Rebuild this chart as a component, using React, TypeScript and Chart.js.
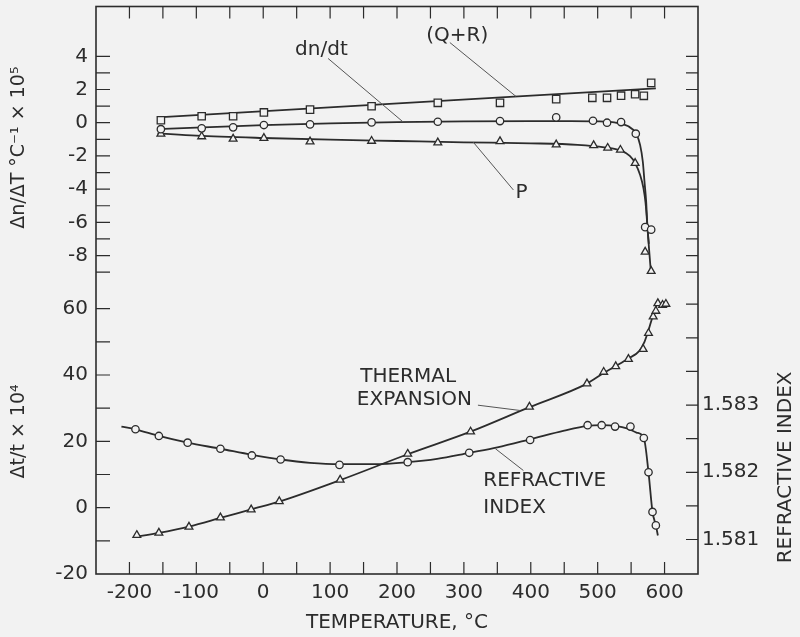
import React, { useEffect, useRef } from 'react';
import { Chart, registerables } from 'chart.js';

Chart.register(...registerables);

// ---------------- data ----------------
// top panel: temperature derivatives (x 10^5 per °C)
const QR_T = [-153, -92, -45, 1, 70, 162, 261, 354, 438, 492, 514, 535, 556, 569, 580];
const QR_V = [0.15, 0.39, 0.39, 0.62, 0.79, 0.99, 1.2, 1.2, 1.42, 1.5, 1.5, 1.63, 1.72, 1.62, 2.4];
const QR_LINE_T = [-158, 587];
const QR_LINE_V = [0.32, 2.07];

const DN_T = [-153, -92, -45, 1, 70, 162, 261, 354, 438, 493, 514, 535, 557, 571, 580];
const DN_V = [-0.39, -0.34, -0.28, -0.14, -0.1, 0.02, 0.06, 0.1, 0.32, 0.12, 0.0, 0.04, -0.66, -6.29, -6.44];
const DN_CURVE_T = [-158, -100, 0, 100, 200, 300, 400, 460, 500, 530, 545, 557.5, 563.5, 567.5, 570, 572.5, 574.5, 576.5];
const DN_CURVE_V = [-0.38, -0.3, -0.15, -0.04, 0.04, 0.08, 0.1, 0.1, 0.08, -0.02, -0.2, -0.66, -1.35, -2.35, -3.55, -4.75, -6.35, -7.3];

const P_T = [-153, -92, -45, 1, 70, 162, 261, 354, 438, 494, 515, 534, 556, 571, 580];
const P_V = [-0.67, -0.83, -0.97, -0.93, -1.14, -1.1, -1.2, -1.12, -1.32, -1.36, -1.52, -1.64, -2.43, -7.78, -8.94];
const P_CURVE_T = [-158, -100, 0, 100, 200, 300, 400, 470, 510, 535, 548, 556, 563.5, 568.5, 571.5, 574.5, 577, 579.5];
const P_CURVE_V = [-0.64, -0.78, -0.92, -1.02, -1.1, -1.18, -1.24, -1.33, -1.48, -1.68, -2.0, -2.43, -3.15, -3.95, -4.8, -6.3, -7.7, -8.95];

// bottom panel: thermal expansion (x 10^4) and refractive index
const TE_T = [-189, -156, -111, -64, -18, 24, 115, 216, 310, 398, 484, 509, 527, 546, 568, 576, 583, 587, 590, 597, 602];
const TE_V = [-8.3, -7.6, -5.8, -3.0, -0.6, 1.9, 8.4, 16.2, 22.9, 30.4, 37.4, 40.9, 42.6, 44.8, 47.8, 52.6, 57.6, 59.3, 61.6, 61.1, 61.4];
const TE_CURVE_T = [-192, -156, -111, -64, -18, 25, 115, 216, 310, 398, 484, 509, 527, 546, 562, 570, 576, 582, 587, 591];
const TE_CURVE_V = [-8.8, -7.6, -5.7, -3.1, -0.5, 1.9, 8.3, 16.1, 22.9, 30.3, 37.4, 40.6, 42.7, 45.0, 47.2, 50.0, 53.5, 57.5, 60.5, 62.5];

const RI_T = [-191, -156, -113, -64, -17, 26, 114, 216, 308, 399, 485, 506, 526, 549, 569, 576, 582, 587];
const RI_V = [1.58264, 1.58254, 1.58244, 1.58235, 1.58225, 1.58219, 1.58211, 1.58215, 1.58229, 1.58248, 1.5827, 1.5827, 1.58268, 1.58268, 1.58251, 1.582, 1.58141, 1.58121];
const RI_CURVE_T = [-212, -191, -156, -113, -64, -17, 26, 70, 114, 165, 216, 260, 308, 350, 399, 450, 485, 506, 526, 545, 558, 569, 576, 582, 587, 590];
const RI_CURVE_V = [1.58268, 1.58264, 1.58254, 1.58244, 1.58235, 1.58226, 1.58219, 1.58214, 1.58212, 1.58212, 1.58215, 1.5822, 1.58229, 1.58237, 1.58249, 1.58262, 1.58269, 1.5827, 1.58269, 1.58265, 1.58259, 1.58251, 1.582, 1.58141, 1.58121, 1.58106];

// ticks and labels
const X_TICKS = [-200, -150, -100, -50, 0, 50, 100, 150, 200, 250, 300, 350, 400, 450, 500, 550, 600];
const X_LABELS = [-200, -100, 0, 100, 200, 300, 400, 500, 600];
const TOP_TICKS = [-9, -8, -7, -6, -5, -4, -3, -2, -1, 0, 1, 2, 3, 4];
const TOP_LABELS = [-8, -6, -4, -2, 0, 2, 4];
const BOT_TICKS = [-20, -10, 0, 10, 20, 30, 40, 50, 60];
const BOT_LABELS = [-20, 0, 20, 40, 60];
const RI_TICKS = [1.581, 1.5815, 1.582, 1.5825, 1.583, 1.5835, 1.584, 1.5845];
const RI_LABELS = [1.581, 1.582, 1.583];

// texts
const X_TITLE = 'TEMPERATURE, °C';
const TOP_TITLE = 'Δn/ΔT °C⁻¹ × 10⁵';
const BOT_TITLE = 'Δt/t × 10⁴';
const RI_TITLE = 'REFRACTIVE INDEX';
const NOTE_TEXTS = ['(Q+R)', 'dn/dt', 'P', 'THERMAL', 'EXPANSION', 'REFRACTIVE', 'INDEX'];

// ---------------- layout / style ----------------
const FONT = 'DejaVu Sans';
const INK = '#2c2c2c';
const BG = '#f2f2f2';

const NOTE_POS = [
  { axis: 'yTop', x: 290, y: 5.25, align: 'center' },
  { axis: 'yTop', x: 87, y: 4.38, align: 'center' },
  { axis: 'yTop', x: 386, y: -4.25, align: 'center' },
  { axis: 'yBot', x: 145, y: 39.6, align: 'left' },
  { axis: 'yBot', x: 140, y: 32.6, align: 'left' },
  { axis: 'yBot', x: 329, y: 8.2, align: 'left' },
  { axis: 'yBot', x: 329, y: -0.1, align: 'left' },
];
const LEADERS = [
  { axis: 'yTop', x1: 279, y1: 4.83, x2: 378, y2: 1.58 },
  { axis: 'yTop', x1: 97, y1: 3.87, x2: 209, y2: 0.05 },
  { axis: 'yTop', x1: 314, y1: -1.17, x2: 374, y2: -4.05 },
  { axis: 'yBot', x1: 321, y1: 30.9, x2: 384, y2: 29.3 },
  { axis: 'yBot', x1: 347, y1: 17.8, x2: 389, y2: 11.2 },
];

const pts = (xs: number[], ys: number[]) => xs.map((x, i) => ({ x, y: ys[i] }));
const near = (v: number, list: number[]) => list.some((a) => Math.abs(a - v) < 1e-7);
const fixedTicks = (list: number[]) => (scale: any) => {
  scale.ticks = list.map((value) => ({ value }));
};
const noPad = (s: any) => {
  s.paddingTop = 0;
  s.paddingBottom = 0;
  s.paddingLeft = 0;
  s.paddingRight = 0;
};

const curve = (xs: number[], ys: number[], axis: string) => ({
  data: pts(xs, ys),
  yAxisID: axis,
  showLine: true,
  borderColor: INK,
  borderWidth: 1.8,
  pointRadius: 0,
  cubicInterpolationMode: 'monotone',
  fill: false,
  order: 2,
});
const marks = (xs: number[], ys: number[], axis: string, style: string, r: number) => ({
  data: pts(xs, ys),
  yAxisID: axis,
  showLine: false,
  pointStyle: style,
  pointRadius: r,
  pointBackgroundColor: BG,
  pointBorderColor: INK,
  pointBorderWidth: 1.3,
  order: 1,
});

const framePlugin = {
  id: 'frameTicks',
  beforeDatasetsDraw(chart: any) {
    const { ctx, chartArea: a, scales } = chart;
    ctx.save();
    ctx.strokeStyle = INK;
    ctx.lineWidth = 1.6;
    ctx.strokeRect(a.left, a.top, a.right - a.left, a.bottom - a.top);
    ctx.lineWidth = 1.2;
    ctx.beginPath();
    const x = scales.x;
    x.ticks.forEach((t: any) => {
      const px = x.getPixelForValue(t.value);
      ctx.moveTo(px, a.bottom);
      ctx.lineTo(px, a.bottom - 12);
      ctx.moveTo(px, a.top);
      ctx.lineTo(px, a.top + 12);
    });
    const yt = scales.yTop;
    yt.ticks.forEach((t: any) => {
      const py = yt.getPixelForValue(t.value);
      ctx.moveTo(a.left, py);
      ctx.lineTo(a.left + 14, py);
      ctx.moveTo(a.right, py);
      ctx.lineTo(a.right - 12, py);
    });
    const yb = scales.yBot;
    yb.ticks.forEach((t: any) => {
      const py = yb.getPixelForValue(t.value);
      if (py > a.bottom - 2) return;
      ctx.moveTo(a.left, py);
      ctx.lineTo(a.left + 14, py);
    });
    const yr = scales.yRI;
    yr.ticks.forEach((t: any) => {
      const py = yr.getPixelForValue(t.value);
      ctx.moveTo(a.right, py);
      ctx.lineTo(a.right - 12, py);
    });
    ctx.stroke();
    ctx.restore();
  },
  afterDatasetsDraw(chart: any) {
    const { ctx, chartArea: a, scales } = chart;
    const x = scales.x;
    ctx.save();
    ctx.strokeStyle = '#555';
    ctx.lineWidth = 1;
    ctx.beginPath();
    LEADERS.forEach((l) => {
      const y = scales[l.axis];
      ctx.moveTo(x.getPixelForValue(l.x1), y.getPixelForValue(l.y1));
      ctx.lineTo(x.getPixelForValue(l.x2), y.getPixelForValue(l.y2));
    });
    ctx.stroke();
    ctx.fillStyle = INK;
    ctx.font = `20px "${FONT}"`;
    ctx.textBaseline = 'middle';
    NOTE_TEXTS.forEach((txt, i) => {
      const p = NOTE_POS[i];
      ctx.textAlign = p.align as CanvasTextAlign;
      ctx.fillText(txt, x.getPixelForValue(p.x), scales[p.axis].getPixelForValue(p.y));
    });
    // right-hand axis title, read bottom-to-top
    const yb = scales.yBot;
    ctx.translate(a.right + 88, (yb.top + yb.bottom) / 2 + 36);
    ctx.rotate(-Math.PI / 2);
    ctx.textAlign = 'center';
    ctx.fillText(RI_TITLE, 0, 0);
    ctx.restore();
  },
};

const tickFont = { family: FONT, size: 20 };

export default function App() {
  const ref = useRef<HTMLCanvasElement>(null);
  useEffect(() => {
    const chart = new Chart(ref.current as HTMLCanvasElement, {
      type: 'scatter',
      data: {
        datasets: [
          curve(QR_LINE_T, QR_LINE_V, 'yTop'),
          marks(QR_T, QR_V, 'yTop', 'rect', 5.2),
          curve(DN_CURVE_T, DN_CURVE_V, 'yTop'),
          marks(DN_T, DN_V, 'yTop', 'circle', 3.7),
          curve(P_CURVE_T, P_CURVE_V, 'yTop'),
          marks(P_T, P_V, 'yTop', 'triangle', 4.5),
          curve(TE_CURVE_T, TE_CURVE_V, 'yBot'),
          marks(TE_T, TE_V, 'yBot', 'triangle', 4.5),
          curve(RI_CURVE_T, RI_CURVE_V, 'yRI'),
          marks(RI_T, RI_V, 'yRI', 'circle', 3.7),
        ] as any,
      },
      options: {
        responsive: false,
        animation: false,
        devicePixelRatio: 1,
        events: [],
        layout: { padding: { top: 3, left: 0, right: 0, bottom: 0 } },
        plugins: { legend: { display: false }, tooltip: { enabled: false } },
        scales: {
          x: {
            type: 'linear',
            position: 'bottom',
            min: -250,
            max: 650,
            grid: { display: false, drawTicks: false },
            border: { display: false },
            afterBuildTicks: fixedTicks(X_TICKS),
            afterFit: (s: any) => {
              s.height = 63;
              noPad(s);
            },
            ticks: {
              autoSkip: false,
              maxRotation: 0,
              padding: 7,
              color: INK,
              font: tickFont,
              callback: (v: any) => (near(Number(v), X_LABELS) ? String(v) : ''),
            },
            title: {
              display: true,
              text: X_TITLE,
              color: INK,
              font: { family: FONT, size: 20 },
              padding: { top: 0, bottom: 2 },
            },
          },
          yBot: {
            type: 'linear',
            axis: 'y',
            position: 'left',
            stack: 'left',
            stackWeight: 287,
            min: -20,
            max: 66,
            grid: { display: false, drawTicks: false },
            border: { display: false },
            afterBuildTicks: fixedTicks(BOT_TICKS),
            afterFit: (s: any) => {
              s.width = 96;
              noPad(s);
            },
            ticks: {
              autoSkip: false,
              padding: 8,
              color: INK,
              font: tickFont,
              callback: (v: any) => (near(Number(v), BOT_LABELS) ? String(v) : ''),
            },
            title: {
              display: true,
              text: BOT_TITLE,
              color: INK,
              font: { family: FONT, size: 19 },
              padding: { top: 8, bottom: 0 },
            },
          },
          yTop: {
            type: 'linear',
            axis: 'y',
            position: 'left',
            stack: 'left',
            stackWeight: 284,
            min: -10,
            max: 7,
            grid: { display: false, drawTicks: false },
            border: { display: false },
            afterBuildTicks: fixedTicks(TOP_TICKS),
            afterFit: (s: any) => {
              s.width = 96;
              noPad(s);
            },
            ticks: {
              autoSkip: false,
              padding: 8,
              color: INK,
              font: tickFont,
              callback: (v: any) => (near(Number(v), TOP_LABELS) ? String(v) : ''),
            },
            title: {
              display: true,
              text: TOP_TITLE,
              color: INK,
              font: { family: FONT, size: 19 },
              padding: { top: 8, bottom: 0 },
            },
          },
          yRI: {
            type: 'linear',
            axis: 'y',
            position: 'right',
            min: 1.580487,
            max: 1.588928,
            grid: { display: false, drawTicks: false },
            border: { display: false },
            afterBuildTicks: fixedTicks(RI_TICKS),
            afterFit: (s: any) => {
              s.width = 102;
              noPad(s);
            },
            ticks: {
              autoSkip: false,
              padding: 4,
              color: INK,
              font: tickFont,
              callback: (v: any) => (near(Number(v), RI_LABELS) ? Number(v).toFixed(3) : ''),
            },
          },
        },
      } as any,
      plugins: [framePlugin],
    });
    return () => chart.destroy();
  }, []);

  return (
    <div style={{ position: 'fixed', left: 0, top: 0, width: 800, height: 637, background: BG }}>
      <canvas ref={ref} width={800} height={637} style={{ display: 'block', width: 800, height: 637 }} />
    </div>
  );
}
